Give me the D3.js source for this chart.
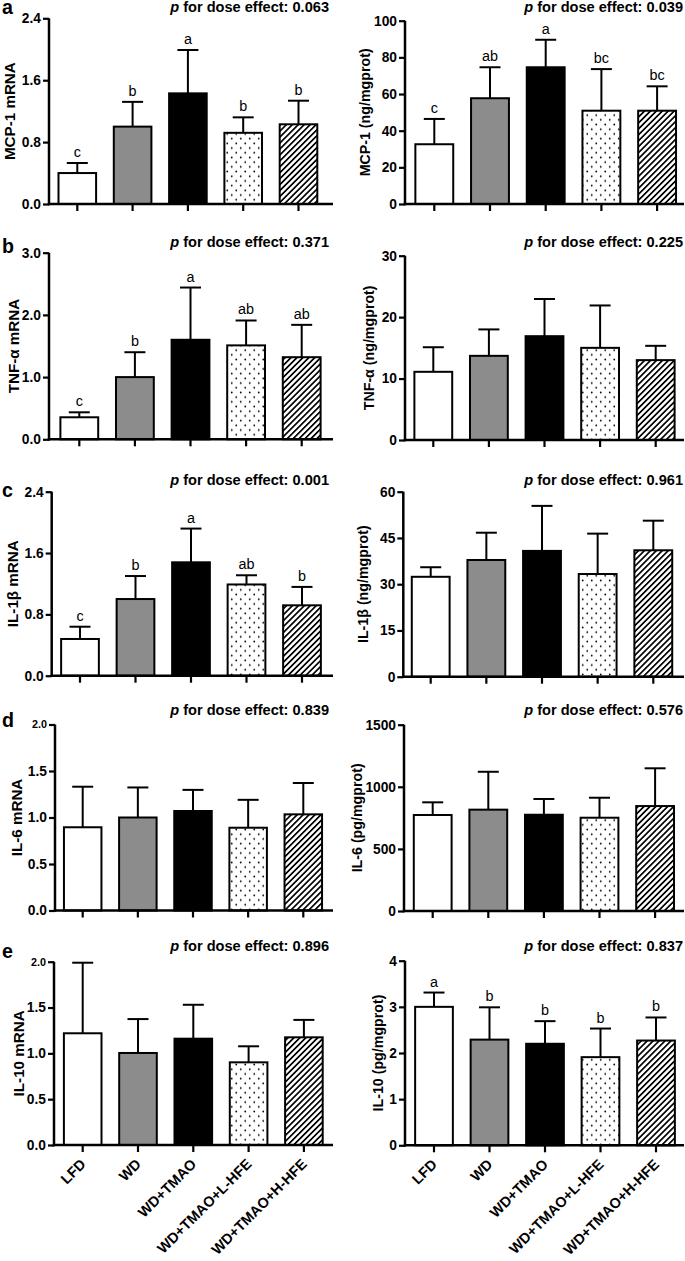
<!DOCTYPE html>
<html><head><meta charset="utf-8">
<script src="https://cdn.jsdelivr.net/npm/d3@7"></script>
<style>
body{margin:0;background:#fff}
svg{display:block}
text{font-family:"Liberation Sans",Arial,Helvetica,sans-serif;fill:#000}
</style>
</head><body>
<svg id="chart" width="685" height="1261"></svg>
<script>
// ---------- data ----------
const groups = ["LFD", "WD", "WD+TMAO", "WD+TMAO+L-HFE", "WD+TMAO+H-HFE"];

const mcp1mRNA      = [0.40, 1.00, 1.43, 0.92, 1.03];
const mcp1mRNASD    = [0.13, 0.32, 0.56, 0.20, 0.305];
const mcp1mRNALet   = ["c", "b", "a", "b", "b"];
const mcp1Prot      = [32.6, 57.7, 74.6, 50.9, 50.9];
const mcp1ProtSD    = [13.8, 16.9, 15.0, 22.7, 13.3];
const mcp1ProtLet   = ["c", "ab", "a", "bc", "bc"];

const tnfmRNA       = [0.354, 1.00, 1.60, 1.51, 1.32];
const tnfmRNASD     = [0.08, 0.40, 0.84, 0.40, 0.52];
const tnfmRNALet    = ["c", "b", "a", "ab", "ab"];
const tnfProt       = [11.1, 13.7, 16.9, 15.0, 13.0];
const tnfProtSD     = [4.0, 4.3, 6.05, 6.9, 2.33];

const il1bmRNA      = [0.479, 1.00, 1.479, 1.19, 0.918];
const il1bmRNASD    = [0.16, 0.30, 0.44, 0.12, 0.24];
const il1bmRNALet   = ["c", "b", "a", "ab", "b"];
const il1bProt      = [32.4, 37.85, 40.8, 33.3, 41.0];
const il1bProtSD    = [3.1, 8.85, 14.6, 13.1, 9.6];

const il6mRNA       = [0.895, 1.00, 1.07, 0.89, 1.034];
const il6mRNASD     = [0.436, 0.323, 0.227, 0.30, 0.337];
const il6Prot       = [773, 816, 775, 751, 845];
const il6ProtSD     = [102, 305, 127, 161, 304];

const il10mRNA      = [1.219, 1.004, 1.16, 0.902, 1.175];
const il10mRNASD    = [0.77, 0.37, 0.37, 0.175, 0.19];
const il10Prot      = [3.00, 2.29, 2.20, 1.91, 2.27];
const il10ProtSD    = [0.31, 0.70, 0.49, 0.62, 0.50];
const il10ProtLet   = ["a", "b", "b", "b", "b"];

const ticksMCPmRNA  = [0, 0.8, 1.6, 2.4];
const ticksMCPProt  = [0, 20, 40, 60, 80, 100];
const ticksTNFmRNA  = [0, 1, 2, 3];
const ticksTNFProt  = [0, 10, 20, 30];
const ticksIL1mRNA  = [0, 0.8, 1.6, 2.4];
const ticksIL1Prot  = [0, 15, 30, 45, 60];
const ticksIL6mRNA  = [0, 0.5, 1, 1.5, 2];
const ticksIL6Prot  = [0, 500, 1000, 1500];
const ticksIL10mRNA = [0, 0.5, 1, 1.5, 2];
const ticksIL10Prot = [0, 1, 2, 3, 4];

const yLabels = ["MCP-1 mRNA", "MCP-1 (ng/mgprot)", "TNF-\u03b1 mRNA", "TNF-\u03b1 (ng/mgprot)",
                 "IL-1\u03b2 mRNA", "IL-1\u03b2 (ng/mgprot)", "IL-6 mRNA", "IL-6 (pg/mgprot)",
                 "IL-10 mRNA", "IL-10 (pg/mgprot)"];
const pValues = ["0.063", "0.039", "0.371", "0.225", "0.001", "0.961", "0.839", "0.576", "0.896", "0.837"];
const panelLetters = ["a", "b", "c", "d", "e"];

const panelData = [
  {vals: mcp1mRNA, sd: mcp1mRNASD, lets: mcp1mRNALet, ticks: ticksMCPmRNA, fmt: ".1f"},
  {vals: mcp1Prot, sd: mcp1ProtSD, lets: mcp1ProtLet, ticks: ticksMCPProt, fmt: "d"},
  {vals: tnfmRNA, sd: tnfmRNASD, lets: tnfmRNALet, ticks: ticksTNFmRNA, fmt: ".1f"},
  {vals: tnfProt, sd: tnfProtSD, lets: null, ticks: ticksTNFProt, fmt: "d"},
  {vals: il1bmRNA, sd: il1bmRNASD, lets: il1bmRNALet, ticks: ticksIL1mRNA, fmt: ".1f"},
  {vals: il1bProt, sd: il1bProtSD, lets: null, ticks: ticksIL1Prot, fmt: "d"},
  {vals: il6mRNA, sd: il6mRNASD, lets: null, ticks: ticksIL6mRNA, fmt: ".1f"},
  {vals: il6Prot, sd: il6ProtSD, lets: null, ticks: ticksIL6Prot, fmt: "d"},
  {vals: il10mRNA, sd: il10mRNASD, lets: null, ticks: ticksIL10mRNA, fmt: ".1f"},
  {vals: il10Prot, sd: il10ProtSD, lets: il10ProtLet, ticks: ticksIL10Prot, fmt: "d"}
];

// ---------- layout ----------
const layout = [
  {ax: 49,    c0: 77.3,  step: 55.3,  yTop: 18.3,  y0: 204,    labX: 10,  pY: 12,    letY: 14},
  {ax: 405,   c0: 434.3, step: 55.7,  yTop: 20.7,  y0: 204,    labX: 365, pY: 12},
  {ax: 49,    c0: 79.3,  step: 55.6,  yTop: 252.7, y0: 439.3,  labX: 14,  pY: 246.5, letY: 253},
  {ax: 405,   c0: 433.3, step: 55.6,  yTop: 255.7, y0: 440,    labX: 369, pY: 246.5},
  {ax: 51.7,  c0: 80,    step: 55.5,  yTop: 491.7, y0: 675.7,  labX: 13,  pY: 484.5, letY: 497},
  {ax: 403.3, c0: 430.7, step: 55.65, yTop: 491.7, y0: 676.7,  labX: 363, pY: 484.5},
  {ax: 55,    c0: 82.7,  step: 55.15, yTop: 724.5, y0: 910.5,  labX: 17,  pY: 715,   letY: 726.5, topSmall: true},
  {ax: 404,   c0: 432.7, step: 55.6,  yTop: 724.7, y0: 911,    labX: 357, pY: 715},
  {ax: 54,    c0: 82.7,  step: 55.3,  yTop: 961.7, y0: 1145,   labX: 19,  pY: 950.5, letY: 958, topSmall: true},
  {ax: 405,   c0: 434,   step: 55.5,  yTop: 960.7, y0: 1145.3, labX: 378, pY: 950.5}
];

const svg = d3.select("#chart");

// size fonts so that the rendered widths match the reference
function fit(str, weight, target) {
  const t = svg.append("text").style("font-size", "100px").style("font-weight", weight).text(str);
  const w = t.node().getComputedTextLength();
  t.remove();
  return 100 * target / w;
}
const pSize    = fit("p for dose effect: 0.063", 700, 159);
const tickSize = fit("100", 700, 23);
const yLabL    = fit("MCP-1 mRNA", 700, 98);
const yLabR    = fit("MCP-1 (ng/mgprot)", 700, 128);
const xLabSize = fit("WD+TMAO+H-HFE", 700, 128);
const letSize  = fit("ab", 400, 16);
const panSize  = fit("d", 700, 12);

const defs = svg.append("defs");
const dots = defs.append("pattern").attr("id", "dots").attr("patternUnits", "userSpaceOnUse")
  .attr("width", 9).attr("height", 9.4);
dots.append("rect").attr("width", 9).attr("height", 9.4).attr("fill", "#fff");
dots.append("circle").attr("cx", 2.25).attr("cy", 2.35).attr("r", 0.9).attr("fill", "#000");
dots.append("circle").attr("cx", 6.75).attr("cy", 7.05).attr("r", 0.9).attr("fill", "#000");
const hatch = defs.append("pattern").attr("id", "hatch").attr("patternUnits", "userSpaceOnUse")
  .attr("width", 4.2).attr("height", 4.2).attr("patternTransform", "rotate(45)");
hatch.append("rect").attr("width", 4.2).attr("height", 4.2).attr("fill", "#fff");
hatch.append("rect").attr("x", 0).attr("width", 1.7).attr("height", 4.2).attr("fill", "#000");

const fills = ["#ffffff", "#8c8c8c", "#000000", "url(#dots)", "url(#hatch)"];

panelData.forEach((pd, i) => {
  const L = layout[i];
  const col = i % 2, row = Math.floor(i / 2);
  const g = svg.append("g");
  const ymax = pd.ticks[pd.ticks.length - 1];
  const y = d3.scaleLinear().domain([0, ymax]).range([L.y0, L.yTop]);
  const x = d3.scaleBand().domain(groups)
    .range([L.c0 - L.step / 2, L.c0 + 4.5 * L.step])
    .paddingInner(0.32).paddingOuter(0.16);
  const bw = x.bandwidth();
  const xEnd = col === 0 ? 333 : 684;

  // bars
  g.selectAll("rect.bar").data(groups).join("rect")
    .attr("x", d => x(d)).attr("width", bw)
    .attr("y", (d, k) => y(pd.vals[k]))
    .attr("height", (d, k) => L.y0 - y(pd.vals[k]))
    .attr("fill", (d, k) => fills[k])
    .attr("stroke", "#000").attr("stroke-width", 2);

  // error bars
  groups.forEach((d, k) => {
    const cx = x(d) + bw / 2;
    const top = y(pd.vals[k] + pd.sd[k]);
    g.append("line").attr("x1", cx).attr("x2", cx)
      .attr("y1", y(pd.vals[k])).attr("y2", top)
      .attr("stroke", "#000").attr("stroke-width", 2);
    g.append("line").attr("x1", cx - 10.5).attr("x2", cx + 10.5)
      .attr("y1", top).attr("y2", top)
      .attr("stroke", "#000").attr("stroke-width", 2);
    if (pd.lets) {
      g.append("text").attr("x", cx).attr("y", top - 6)
        .attr("text-anchor", "middle").style("font-size", letSize + "px")
        .text(pd.lets[k]);
    }
  });

  // y axis
  const yAxis = d3.axisLeft(y).tickValues(pd.ticks).tickFormat(d3.format(pd.fmt))
    .tickSize(6).tickSizeOuter(0).tickPadding(2);
  const ya = g.append("g").attr("transform", `translate(${L.ax},0)`).call(yAxis);
  ya.select(".domain").attr("stroke-width", 2.5).attr("stroke", "#000")
    .attr("d", `M0,${L.y0 + 1.25}V${L.yTop}`);
  ya.selectAll(".tick line").attr("stroke-width", 2.2).attr("stroke", "#000");
  ya.selectAll(".tick text").style("font-size", tickSize + "px").style("font-weight", 700)
    .attr("fill", "#000").style("font-family", '"Liberation Sans",Arial,sans-serif');
  if (L.topSmall) {
    ya.selectAll(".tick text").filter(d => d === ymax).style("font-size", (tickSize * 0.78) + "px");
  }

  // x axis
  const xAxis = d3.axisBottom(x).tickSize(7).tickSizeOuter(0).tickFormat("");
  const xa = g.append("g").attr("transform", `translate(0,${L.y0})`).call(xAxis);
  xa.select(".domain").remove();
  xa.selectAll(".tick line").attr("stroke-width", 2.2).attr("stroke", "#000");
  g.append("line").attr("x1", L.ax - 1.25).attr("x2", xEnd)
    .attr("y1", L.y0).attr("y2", L.y0).attr("stroke", "#000").attr("stroke-width", 2.5);

  if (row === 4) {
    groups.forEach(d => {
      const cx = x(d) + bw / 2;
      g.append("text")
        .attr("transform", `translate(${cx + 4},${L.y0 + 20}) rotate(-45)`)
        .attr("text-anchor", "end").style("font-size", xLabSize + "px").style("font-weight", 700)
        .text(d);
    });
  }

  // y label
  g.append("text")
    .attr("transform", `translate(${L.labX},${(L.y0 + L.yTop) / 2}) rotate(-90)`)
    .attr("text-anchor", "middle").attr("dy", "0.35em")
    .style("font-size", (col === 0 ? yLabL : yLabR) + "px").style("font-weight", 700)
    .text(yLabels[i]);

  // p text
  const pt = g.append("text").attr("x", col === 0 ? 329 : 683).attr("y", L.pY)
    .attr("text-anchor", "end").style("font-size", pSize + "px").style("font-weight", 700);
  pt.append("tspan").style("font-style", "italic").text("p");
  pt.append("tspan").text(" for dose effect: " + pValues[i]);

  // panel letter
  if (col === 0) {
    g.append("text").attr("x", 2).attr("y", L.letY)
      .style("font-size", panSize + "px").style("font-weight", 700)
      .text(panelLetters[row]);
  }
});
</script>
</body></html>
